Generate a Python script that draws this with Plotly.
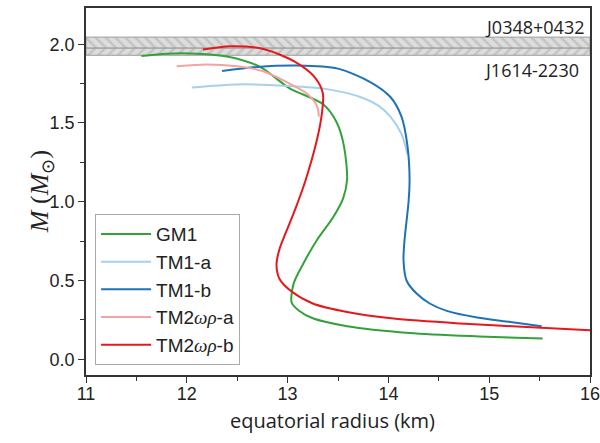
import plotly.graph_objects as go

# ---- data ----
gm1_r = [11.55, 11.8, 12.1, 12.4, 12.73, 13.02, 13.35, 13.49, 13.56, 13.59, 13.55, 13.45, 13.29, 13.15, 13.06, 13.04, 13.11, 13.25, 13.59, 14.21, 14.9, 15.53]
gm1_m = [1.925, 1.94, 1.94, 1.922, 1.855, 1.72, 1.62, 1.50, 1.35, 1.14, 1.02, 0.90, 0.756, 0.60, 0.48, 0.36, 0.31, 0.26, 0.21, 0.167, 0.145, 0.131]

tm1a_r = [12.05, 12.5, 13.0, 13.39, 13.72, 13.9, 14.02, 14.13, 14.17, 14.19]
tm1a_m = [1.725, 1.745, 1.735, 1.715, 1.665, 1.61, 1.54, 1.43, 1.35, 1.30]

tm1b_r = [12.35, 12.7, 13.1, 13.5, 13.82, 14.02, 14.13, 14.19, 14.21, 14.2, 14.16, 14.15, 14.18, 14.28, 14.41, 14.58, 14.88, 15.21, 15.52]
tm1b_m = [1.83, 1.856, 1.865, 1.845, 1.76, 1.665, 1.54, 1.35, 1.14, 1.0, 0.756, 0.63, 0.50, 0.417, 0.354, 0.307, 0.265, 0.237, 0.21]

tm2a_r = [11.9, 12.2, 12.5, 12.75, 13.02, 13.19, 13.29, 13.31]
tm2a_m = [1.86, 1.872, 1.86, 1.83, 1.75, 1.687, 1.61, 1.54]

tm2b_r = [12.16, 12.43, 12.76, 13.07, 13.27, 13.35, 13.34, 13.29, 13.18, 13.08, 12.98, 12.92, 12.89, 12.92, 13.04, 13.25, 13.59, 14.05, 14.71, 15.37, 16.0]
tm2b_m = [1.966, 1.987, 1.97, 1.89, 1.79, 1.687, 1.56, 1.39, 1.14, 0.96, 0.80, 0.70, 0.60, 0.51, 0.43, 0.354, 0.30, 0.258, 0.227, 0.205, 0.184]

band_upper = [1.975, 2.045]   # J0348+0432
band_lower = [1.93, 1.975]    # J1614-2230
x_range = [11, 16]
y_range = [-0.1, 2.23]

SER = "<span style='font-family:Liberation Serif'><i>ωρ</i></span>"
names = ["GM1", "TM1-a", "TM1-b", "TM2" + SER + "-a", "TM2" + SER + "-b"]
colors = ["#34a23a", "#a8d0ea", "#1f72b6", "#f4a3a3", "#e5191d"]
series = [(gm1_r, gm1_m), (tm1a_r, tm1a_m), (tm1b_r, tm1b_m), (tm2a_r, tm2a_m), (tm2b_r, tm2b_m)]

fig = go.Figure()

# hatched bands
for (lo, hi), shp in [(band_upper, "\\"), (band_lower, "/")]:
    fig.add_trace(go.Scatter(
        x=[x_range[0], x_range[1], x_range[1], x_range[0], x_range[0]],
        y=[lo, lo, hi, hi, lo],
        fill="toself", mode="lines",
        line=dict(color="#9a9a9a", width=1),
        fillcolor="#dddddd",
        fillpattern=dict(shape=shp, bgcolor="#dddddd", fgcolor="#a8a8a8", size=7, solidity=0.35),
        showlegend=False, hoverinfo="skip"))

for (r, m), n, c in zip(series, names, colors):
    fig.add_trace(go.Scatter(x=r, y=m, mode="lines", name=n,
                             line=dict(color=c, width=2, shape="spline", smoothing=0.8)))

fig.add_annotation(x=16, y=2.05, xref="x", yref="y", text="J0348+0432", showarrow=False,
                   xanchor="right", yanchor="bottom", xshift=-4, yshift=-5,
                   font=dict(family="Open Sans", size=18, color="#222"))
fig.add_annotation(x=16, y=1.93, xref="x", yref="y", text="J1614-2230", showarrow=False,
                   xanchor="right", yanchor="top", xshift=-9, yshift=-1,
                   font=dict(family="Open Sans", size=18, color="#222"))

# axis titles as annotations for exact placement
fig.add_annotation(x=-0.09, y=0.5, xref="paper", yref="paper", text="<i>M</i> (<i>M</i><sub>⊙</sub>)",
                   textangle=-90, showarrow=False, xanchor="center", yanchor="middle",
                   font=dict(family="Liberation Serif", size=26, color="#222"))
fig.add_annotation(x=0.49, y=-0.125, xref="paper", yref="paper", text="equatorial radius (km)",
                   showarrow=False, xanchor="center", yanchor="middle",
                   font=dict(family="Open Sans", size=20, color="#222"))

axis_common = dict(showline=True, linecolor="#333", linewidth=1.5, mirror=True,
                   ticks="outside", ticklen=6, tickcolor="#333", tickwidth=1.2,
                   showgrid=False, zeroline=False, automargin=False,
                   ticklabeloverflow="allow",
                   tickfont=dict(family="Liberation Sans, Arial", size=18, color="#222"))

fig.update_xaxes(range=x_range, dtick=1, tick0=11, ticklabelstandoff=-4,
                 minor=dict(ticks="outside", dtick=0.5, ticklen=4, tickcolor="#333"),
                 **axis_common)
fig.update_yaxes(range=y_range, dtick=0.5, tick0=0, tickformat=".1f",
                 minor=dict(ticks="outside", dtick=0.25, ticklen=4, tickcolor="#333"),
                 **axis_common)

fig.update_layout(
    width=600, height=443,
    margin=dict(l=86, r=10, t=8, b=68),
    plot_bgcolor="white", paper_bgcolor="white",
    legend=dict(x=0.018, y=0.027, xanchor="left", yanchor="bottom",
                bgcolor="white", bordercolor="#aaaaaa", borderwidth=1,
                font=dict(family="Liberation Sans, Arial", size=19, color="#222"),
                itemwidth=50, tracegroupgap=0),
)

fig.write_html("out.html")
